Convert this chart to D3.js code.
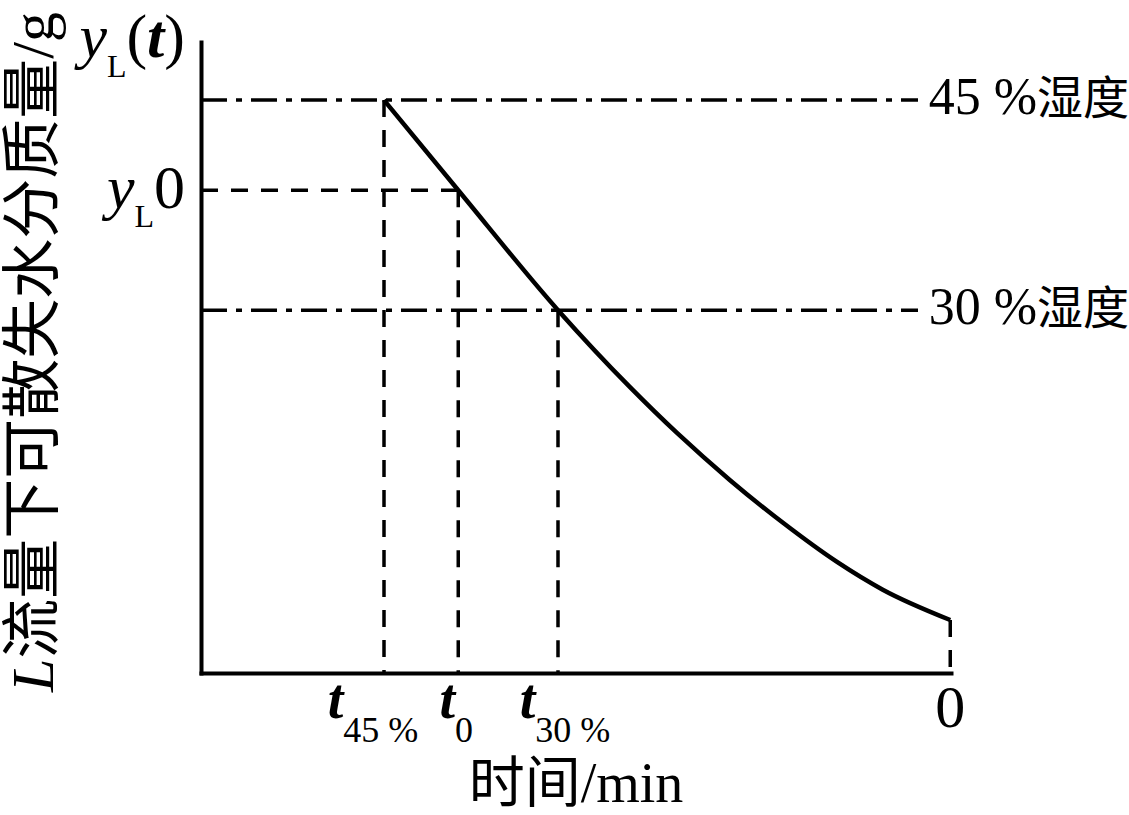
<!DOCTYPE html>
<html>
<head>
<meta charset="utf-8">
<script src="https://cdn.jsdelivr.net/npm/d3@7"></script>
<style>
html,body{margin:0;padding:0;background:#fff;}
svg text{font-family:"Liberation Serif","Times New Roman","Noto Sans CJK SC",serif;fill:#000;}
</style>
</head>
<body>
<svg id="chart" width="1129" height="815"></svg>
<script>
// ---- data (abstract units) ----
const curveTime = [24.4, 34.3, 47.6, 57.2, 63.5, 70.5, 77.6, 84.8, 90.9, 99.9];
const curveMass = [90.8, 76.5, 57.5, 45.3, 38.0, 30.6, 23.8, 17.6, 13.2, 8.4];
const humidityLevels = [90.8, 57.5];          // 45 %, 30 %
const humidityLabels = ["45 %", "30 %"];
const y0Level = 76.5;                          // y_L0
const markerTimes = [24.4, 34.3, 47.6];        // t45%, t0, t30%
const markerMass  = [90.8, 76.5, 57.5];
const markerSubs  = ["45 %", "0", "30 %"];
const endTime = 99.9, endMass = 8.4;
const xTitle = "时间/min";
const yTitleCJK = "流量下可散失水分质量/g";

const svg = d3.select("#chart");
const x = d3.scaleLinear().domain([0, 100]).range([201, 951]);
const y = d3.scaleLinear().domain([0, 100]).range([673, 42]);

// axes
const ax = svg.append("g").attr("transform", "translate(0,673)")
  .call(d3.axisBottom(x).tickValues([]).tickSizeOuter(0));
const ay = svg.append("g").attr("transform", "translate(201,0)")
  .call(d3.axisLeft(y).tickValues([]).tickSizeOuter(0));
[ax, ay].forEach(g => g.select(".domain").attr("stroke", "#000")
  .attr("stroke-width", 4).attr("stroke-linecap", "square"));

const dashDot = "26,9,6,9", dash = "17,13";

// humidity dash-dot lines
svg.selectAll(".hum").data(humidityLevels).enter().append("line")
  .attr("x1", x(0)).attr("x2", 918)
  .attr("y1", d => y(d)).attr("y2", d => y(d))
  .attr("stroke", "#000").attr("stroke-width", 3.5).attr("stroke-dasharray", dashDot);

// y_L0 dashed
svg.append("line").attr("x1", x(0)).attr("x2", x(markerTimes[1]))
  .attr("y1", y(y0Level)).attr("y2", y(y0Level))
  .attr("stroke", "#000").attr("stroke-width", 3.5).attr("stroke-dasharray", dash);

// vertical dashed markers
svg.selectAll(".vm").data(markerTimes.map((t, i) => [t, markerMass[i]]).concat([[endTime, endMass]]))
  .enter().append("line")
  .attr("x1", d => x(d[0])).attr("x2", d => x(d[0]))
  .attr("y1", d => y(d[1])).attr("y2", y(0))
  .attr("stroke", "#000").attr("stroke-width", 3.5).attr("stroke-dasharray", dash);

// curve
const line = d3.line().x(d => x(d[0])).y(d => y(d[1])).curve(d3.curveMonotoneX);
svg.append("path").datum(curveTime.map((t, i) => [t, curveMass[i]]))
  .attr("d", line).attr("fill", "none").attr("stroke", "#000").attr("stroke-width", 4.5);

// humidity labels
humidityLevels.forEach((lv, i) => {
  const t = svg.append("text").attr("x", 1129).attr("y", y(lv) + 14)
    .attr("text-anchor", "end").attr("font-size", 52);
  t.append("tspan").text(humidityLabels[i]);
  t.append("tspan").attr("font-size", 46).attr("font-family", "Noto Sans CJK SC").text("湿度");
});

// y_L(t) label
{
  const t = svg.append("text").attr("x", 185).attr("y", 57).attr("text-anchor", "end").attr("font-size", 62);
  t.append("tspan").attr("font-style", "italic").text("y");
  t.append("tspan").attr("font-size", 32).attr("dy", 20).text("L");
  t.append("tspan").attr("dy", -20).text("(");
  t.append("tspan").attr("font-style", "italic").attr("font-weight", "bold").text("t");
  t.append("tspan").text(")");
}
// y_L0 label
{
  const t = svg.append("text").attr("x", 185).attr("y", y(y0Level) + 18).attr("text-anchor", "end").attr("font-size", 62);
  t.append("tspan").attr("font-style", "italic").text("y");
  t.append("tspan").attr("font-size", 32).attr("dy", 19).text("L");
  t.append("tspan").attr("dy", -19).text("0");
}

// t labels
const tOffsets = [-11, -2, 7];
markerTimes.forEach((tm, i) => {
  const t = svg.append("text").attr("x", x(tm) + tOffsets[i]).attr("y", 718)
    .attr("text-anchor", "middle").attr("font-size", 56);
  t.append("tspan").attr("font-style", "italic").attr("font-weight", "bold").text("t");
  t.append("tspan").attr("font-size", 36).attr("dy", 24).text(markerSubs[i]);
});
// end "0"
svg.append("text").attr("x", x(endTime)).attr("y", 727).attr("text-anchor", "middle")
  .attr("font-size", 60).text("0");

// x title
svg.append("text").attr("x", (x(0) + x(100)) / 2).attr("y", 802).attr("text-anchor", "middle")
  .attr("font-size", 56).text(xTitle);

// y title
{
  const t = svg.append("text").attr("transform", "translate(53,352) rotate(-90)")
    .attr("text-anchor", "middle").attr("font-size", 60);
  t.append("tspan").attr("font-style", "italic").text("L");
  t.append("tspan").text(yTitleCJK);
}
</script>
</body>
</html>
